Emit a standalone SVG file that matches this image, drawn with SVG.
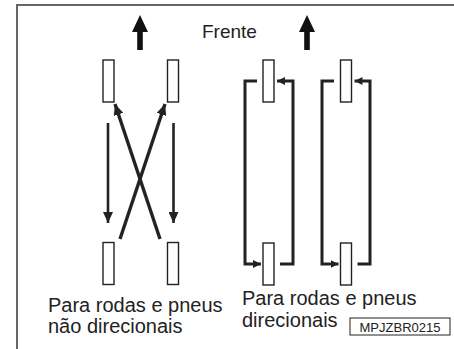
<svg xmlns="http://www.w3.org/2000/svg" width="454" height="349" viewBox="0 0 454 349">
<style>
.tire{fill:#fff;stroke:#222;stroke-width:1.4}
.ln{fill:none;stroke:#222;stroke-linecap:butt;stroke-linejoin:miter}
.lbl{font-family:"Liberation Sans",Arial,sans-serif;font-size:20px;fill:#222}
.code{font-family:"Liberation Sans",Arial,sans-serif;font-size:13px;fill:#222}
</style>
<defs>
<marker id="ah" markerUnits="userSpaceOnUse" markerWidth="12" markerHeight="10" refX="11" refY="5" orient="auto">
<path d="M0,0 L11,5 L0,10 Z" fill="#222"/>
</marker>
<marker id="ahs" markerUnits="userSpaceOnUse" markerWidth="8" markerHeight="8" refX="8" refY="4" orient="auto">
<path d="M0,0 L8,4 L0,8 Z" fill="#222"/>
</marker>
</defs>
<rect width="454" height="349" fill="#fff"/>
<path d="M17,349 V5 H454" fill="none" stroke="#666" stroke-width="2"/>

<g id="front-arrows">
<path d="M140,15 L148,32 L142.8,32 L142.8,50 L137.2,50 L137.2,32 L132,32 Z" fill="#111"/>
<path d="M307,15 L315,32 L309.8,32 L309.8,50 L304.2,50 L304.2,32 L299,32 Z" fill="#111"/>
<text class="lbl" x="202" y="38" style="font-size:19px">Frente</text>
</g>

<g id="nondir-tires">
<rect class="tire" x="103" y="60" width="11" height="42"/>
<rect class="tire" x="167.5" y="60" width="11" height="42"/>
<rect class="tire" x="103" y="242.5" width="11" height="42"/>
<rect class="tire" x="167.5" y="242.5" width="11" height="42"/>
</g>

<g id="dir-tires">
<rect class="tire" x="263" y="60" width="11" height="42"/>
<rect class="tire" x="340.5" y="60" width="11" height="42"/>
<rect class="tire" x="263" y="243" width="11" height="42"/>
<rect class="tire" x="340.5" y="243" width="11" height="42"/>
</g>

<g id="connectors">
<line class="ln" x1="108" y1="123" x2="108" y2="223" stroke-width="2.6" marker-end="url(#ah)"/>
<line class="ln" x1="173.5" y1="123" x2="173.5" y2="223" stroke-width="2.6" marker-end="url(#ah)"/>
<line class="ln" x1="120" y1="239" x2="165" y2="104" stroke-width="3.4" marker-end="url(#ah)"/>
<line class="ln" x1="160" y1="239" x2="115" y2="104" stroke-width="3.4" marker-end="url(#ah)"/>
<path class="ln" d="M257,81 H245 V264 H261" stroke-width="3" marker-end="url(#ahs)"/>
<path class="ln" d="M280,264 H293 V81 H277" stroke-width="3" marker-end="url(#ahs)"/>
<path class="ln" d="M334,81 H322 V264 H338.5" stroke-width="3" marker-end="url(#ahs)"/>
<path class="ln" d="M357.5,264 H370 V81 H354.5" stroke-width="3" marker-end="url(#ahs)"/>
</g>

<g id="labels">
<text class="lbl" x="48" y="312">Para rodas e pneus</text>
<text class="lbl" x="48" y="333">não direcionais</text>
<text class="lbl" x="242" y="305">Para rodas e pneus</text>
<text class="lbl" x="242" y="327">direcionais</text>
</g>

<g id="code">
<rect x="350" y="318" width="100" height="17" fill="#fff" stroke="#222" stroke-width="1"/>
<text class="code" x="400" y="331.5" text-anchor="middle">MPJZBR0215</text>
</g>
</svg>
